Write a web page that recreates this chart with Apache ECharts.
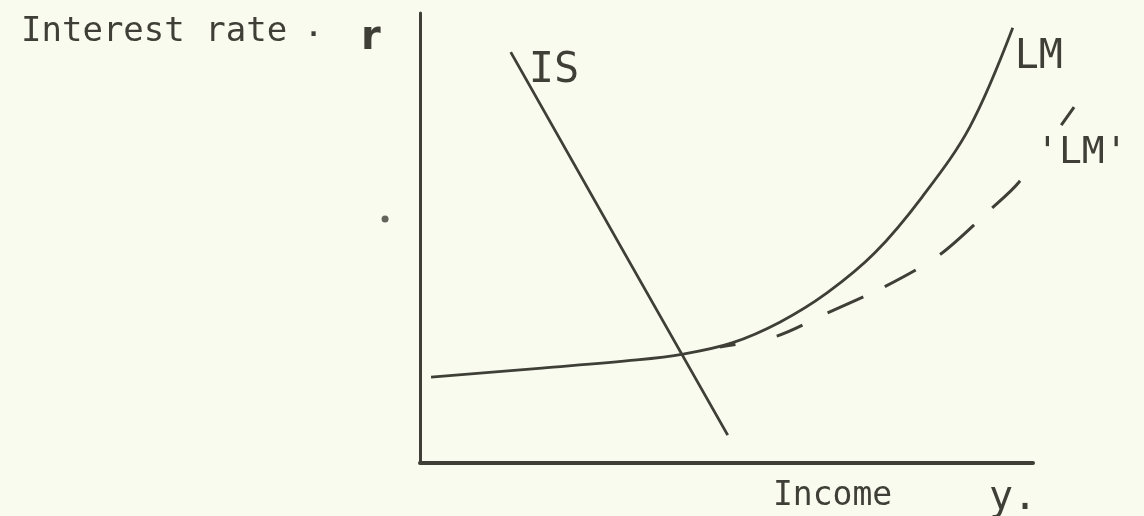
<!DOCTYPE html>
<html>
<head>
<meta charset="utf-8">
<script src="https://cdn.jsdelivr.net/npm/echarts@6/dist/echarts.min.js"></script>
<style>
  html, body { margin: 0; padding: 0; background: #f9fbef; }
  #chart { width: 1144px; height: 516px; }
</style>
</head>
<body>
<div id="chart"></div>
<script>
// Income (x) vs interest rate (y), both on a 0-100 schematic scale
const isCurve = [[50.2, 6.2], [32.5, 48.7], [14.8, 91.3]];
const lmCurve = [
  [1.8, 19.1], [19.9, 21.1], [35.4, 22.9], [42.9, 24.2], [50.9, 26.7],
  [58.7, 31.3], [66.4, 37.8], [74.2, 46.7], [81.9, 59.1], [89.7, 74.7],
  [96.7, 96.7]
];
const lmPrimeCurve = [
  [48.9, 25.8], [58.2, 28.2], [66.4, 33.3], [75.7, 39.1], [84.7, 46.2],
  [93.1, 56.4], [97.7, 62.4], [106.7, 79.1]
];
const specks = [[-5.7, 54.2]];
const yTitle = 'Interest rate';
const ySymbol = 'r';
const xTitle = 'Income';
const xSymbol = 'y.';

const ink = '#3f3f37';
// hand-drawn, uneven dash rhythm of the LM' curve
const lmPrimeDash = [16, 42, 28, 28, 39, 24, 35, 29, 45, 25, 39, 69, 26, 40];
const hiddenAxis = {
  type: 'value', show: false, splitLine: { show: false }
};
const chart = echarts.init(document.getElementById('chart'));
chart.setOption({
  backgroundColor: '#f9fbef',
  animation: false,
  grid: [
    { left: 420, top: 13, width: 613, height: 450 },
    // same scale as the main grid, extended to 110 on x so LM' can run past the axis end
    { left: 420, top: 13, width: 674.3, height: 450 }
  ],
  xAxis: [
    {
      type: 'value', min: 0, max: 100, gridIndex: 0,
      axisLine: { show: true, lineStyle: { color: ink, width: 4 } },
      axisTick: { show: false }, axisLabel: { show: false }, splitLine: { show: false }
    },
    Object.assign({ gridIndex: 1, min: 0, max: 110 }, hiddenAxis)
  ],
  yAxis: [
    {
      type: 'value', min: 0, max: 100, gridIndex: 0,
      axisLine: { show: true, lineStyle: { color: ink, width: 3 } },
      axisTick: { show: false }, axisLabel: { show: false }, splitLine: { show: false }
    },
    Object.assign({ gridIndex: 1, min: 0, max: 100 }, hiddenAxis)
  ],
  title: [
    { text: yTitle, left: 16, top: 10,
      textStyle: { fontFamily: 'DejaVu Sans Mono', fontSize: 34, fontWeight: 'normal', color: ink } },
    { text: '·', left: 304, top: 19,
      textStyle: { fontFamily: 'DejaVu Sans', fontSize: 24, fontWeight: 'bold', color: ink } },
    { text: ySymbol, left: 356, top: 14,
      textStyle: { fontFamily: 'DejaVu Sans', fontSize: 40, fontWeight: 'bold', color: ink } },
    { text: xTitle, left: 768, top: 475,
      textStyle: { fontFamily: 'DejaVu Sans Mono', fontSize: 33, fontWeight: 'normal', color: ink } },
    { text: xSymbol, left: 984, top: 474,
      textStyle: { fontFamily: 'DejaVu Sans Mono', fontSize: 40, fontWeight: 'normal', color: ink } }
  ],
  series: [
    {
      name: 'IS', type: 'line', data: isCurve, showSymbol: false, clip: false,
      lineStyle: { color: ink, width: 2.8 },
      endLabel: { show: true, formatter: 'IS', offset: [10, 19],
        fontFamily: 'DejaVu Sans Mono', fontSize: 42, color: ink }
    },
    {
      name: 'LM', type: 'line', data: lmCurve, smooth: 0.35,
      showSymbol: false, clip: false,
      lineStyle: { color: ink, width: 2.8 },
      endLabel: { show: true, formatter: 'LM', offset: [-6, 30],
        fontFamily: 'DejaVu Sans Mono', fontSize: 40, color: ink }
    },
    {
      name: "LM'", type: 'line', data: lmPrimeCurve, xAxisIndex: 1, yAxisIndex: 1,
      smooth: 0.3, showSymbol: false, clip: false,
      lineStyle: { color: ink, width: 3, type: lmPrimeDash, dashOffset: 0 },
      endLabel: { show: true, formatter: "'LM'", offset: [-46, 46],
        fontFamily: 'DejaVu Sans Mono', fontSize: 38, color: ink }
    },
    {
      name: 'speck', type: 'scatter', data: specks, symbolSize: 7, clip: false,
      itemStyle: { color: ink }
    }
  ]
});
</script>
</body>
</html>
